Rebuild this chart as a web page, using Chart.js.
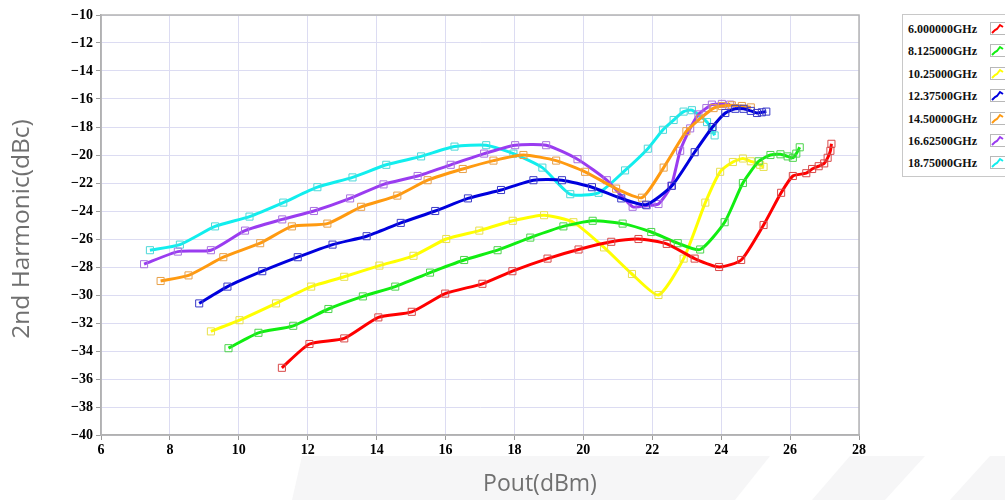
<!DOCTYPE html>
<html>
<head>
<meta charset="utf-8">
<script src="https://cdn.jsdelivr.net/npm/chart.js@4.4.1/dist/chart.umd.min.js"></script>
<style>
  html, body { margin: 0; padding: 0; background: #fff; }
  #wrap { position: relative; width: 1005px; height: 500px; overflow: hidden; }
  #legend {
    position: absolute; left: 902px; top: 14px; width: 120px; height: 163px;
    border: 1px solid #c8c8c8; background: #fff; box-sizing: border-box;
    font: bold 12px "Liberation Serif", serif; color: #111;
  }
  .row { position: absolute; left: 5px; height: 14px; line-height: 14px; white-space: nowrap; }
  .sw { position: absolute; left: 82px; top: 0; width: 16px; height: 13px; border: 1px solid #b8b8b8; box-sizing: border-box; background: #fff; }
</style>
</head>
<body>
<div id="wrap">
  <canvas id="myChart" width="1005" height="500"></canvas>
  <div id="legend"></div>
</div>
<script>
// series labels
const freqLabels = ['6.000000GHz', '8.125000GHz', '10.25000GHz', '12.37500GHz', '14.50000GHz', '16.62500GHz', '18.75000GHz'];
const lineColors = ['#ff0000', '#11ee11', '#ffff00', '#0000dd', '#ff9a10', '#9a3cf0', '#11eeee'];
const markColors = ['#d84848', '#4cd44c', '#e8e04c', '#3a3ac8', '#e8a048', '#a870e0', '#4cd8d8'];

// Pout (dBm) / 2nd harmonic (dBc)
const pout6 = [11.25, 12.05, 13.06, 14.05, 15.02, 15.99, 17.07, 17.94, 18.96, 19.86, 20.81, 21.60, 22.42, 23.23, 23.94, 24.58, 25.23, 25.74, 26.08, 26.47, 26.64, 26.83, 26.99, 27.09, 27.17, 27.20];
const harm6 = [-35.2, -33.5, -33.1, -31.6, -31.2, -29.9, -29.2, -28.3, -27.4, -26.75, -26.2, -26.0, -26.35, -27.4, -28.0, -27.5, -25.0, -22.7, -21.5, -21.3, -21.0, -20.8, -20.6, -20.2, -19.7, -19.2];

const pout8 = [9.70, 10.57, 11.58, 12.60, 13.60, 14.54, 15.55, 16.54, 17.51, 18.46, 19.42, 20.27, 21.14, 21.97, 22.74, 23.39, 24.10, 24.63, 25.09, 25.43, 25.72, 25.93, 26.08, 26.18, 26.28];
const harm8 = [-33.8, -32.7, -32.2, -31.0, -30.1, -29.4, -28.4, -27.5, -26.8, -25.9, -25.1, -24.7, -24.9, -25.5, -26.3, -26.75, -24.8, -22.0, -20.45, -20.0, -19.95, -20.1, -20.2, -19.9, -19.45];

const pout10 = [9.19, 10.02, 11.08, 12.10, 13.06, 14.08, 15.07, 16.02, 16.98, 17.95, 18.86, 19.71, 20.60, 21.41, 22.18, 22.91, 23.54, 23.97, 24.34, 24.63, 24.86, 25.13, 25.23];
const harm10 = [-32.6, -31.8, -30.6, -29.4, -28.7, -27.9, -27.2, -26.0, -25.4, -24.7, -24.3, -24.8, -26.6, -28.5, -30.0, -27.4, -23.4, -21.2, -20.5, -20.25, -20.45, -20.7, -20.85];

const pout12 = [8.85, 9.67, 10.68, 11.71, 12.72, 13.71, 14.70, 15.70, 16.65, 17.61, 18.55, 19.38, 20.25, 21.10, 21.82, 22.57, 23.23, 23.75, 24.12, 24.41, 24.65, 24.86, 25.04, 25.18, 25.31];
const harm12 = [-30.6, -29.4, -28.3, -27.3, -26.4, -25.8, -24.85, -24.0, -23.1, -22.5, -21.8, -21.8, -22.3, -23.1, -23.55, -22.2, -19.8, -18.0, -17.0, -16.7, -16.7, -16.85, -17.0, -16.95, -16.9];

const pout14 = [7.73, 8.54, 9.55, 10.62, 11.54, 12.57, 13.55, 14.60, 15.48, 16.50, 17.39, 18.26, 19.21, 20.05, 20.95, 21.70, 22.33, 22.99, 23.39, 23.78, 24.02, 24.31, 24.60, 24.86];
const harm14 = [-29.0, -28.6, -27.3, -26.3, -25.1, -24.9, -23.7, -22.9, -21.8, -21.0, -20.4, -20.0, -20.4, -21.2, -22.4, -23.05, -20.9, -18.3, -17.4, -16.65, -16.5, -16.45, -16.5, -16.6];

const pout16 = [7.25, 8.23, 9.19, 10.18, 11.26, 12.18, 13.23, 14.20, 15.19, 16.15, 17.12, 18.02, 18.92, 19.83, 20.68, 21.43, 21.84, 22.18, 22.55, 22.81, 23.10, 23.34, 23.57, 23.73, 24.02, 24.26];
const harm16 = [-27.8, -26.9, -26.8, -25.4, -24.6, -24.0, -23.1, -22.1, -21.5, -20.7, -19.9, -19.3, -19.3, -20.3, -21.8, -23.7, -23.6, -23.5, -22.2, -19.7, -18.1, -17.1, -16.65, -16.4, -16.35, -16.4];

const pout18 = [7.42, 8.29, 9.31, 10.31, 11.29, 12.28, 13.30, 14.28, 15.29, 16.26, 17.18, 17.97, 18.81, 19.62, 20.44, 21.21, 21.87, 22.31, 22.62, 22.91, 23.15, 23.59, 23.73, 23.81];
const harm18 = [-26.8, -26.4, -25.1, -24.4, -23.4, -22.3, -21.6, -20.7, -20.1, -19.4, -19.3, -19.9, -20.9, -22.8, -22.7, -21.1, -19.55, -18.2, -17.5, -16.9, -16.8, -17.65, -18.2, -18.6];

const poutSets = [pout6, pout8, pout10, pout12, pout14, pout16, pout18];
const harmSets = [harm6, harm8, harm10, harm12, harm14, harm16, harm18];

const datasets = freqLabels.map((label, i) => ({
    label: label,
    data: poutSets[i].map((x, j) => ({ x: x, y: harmSets[i][j] })),
    borderColor: lineColors[i],
    borderWidth: 3,
    pointStyle: 'rect',
    pointRadius: 5,
    pointBorderWidth: 1,
    pointBorderColor: markColors[i],
    pointBackgroundColor: 'rgba(0,0,0,0)',
    tension: 0.2,
    fill: false
}));

// faint background shapes, frame round the plot, axis titles
const decor = {
    id: 'decor',
    beforeDraw(chart) {
        const c = chart.ctx;
        c.save();
        c.fillStyle = '#fff';
        c.fillRect(0, 0, chart.width, chart.height);
        c.fillStyle = '#f6f6f7';
        c.beginPath();
        c.moveTo(292, 500); c.lineTo(302, 456); c.lineTo(770, 456); c.lineTo(735, 500);
        c.closePath(); c.fill();
        c.beginPath();
        c.moveTo(812, 500); c.lineTo(850, 456); c.lineTo(925, 456); c.lineTo(885, 500);
        c.closePath(); c.fill();
        c.beginPath();
        c.moveTo(950, 500); c.lineTo(990, 456); c.lineTo(1005, 456); c.lineTo(1005, 500);
        c.closePath(); c.fill();
        c.restore();
    },
    afterDraw(chart) {
        const a = chart.chartArea, c = chart.ctx;
        c.save();
        c.strokeStyle = '#b4b4b4';
        c.lineWidth = 1.5;
        c.strokeRect(a.left, a.top, a.right - a.left, a.bottom - a.top);
        c.fillStyle = '#707070';
        c.textAlign = 'center';
        c.textBaseline = 'middle';
        c.font = '23px "Open Sans", sans-serif';
        c.fillText('Pout(dBm)', 540, 484);
        c.translate(22, 229);
        c.rotate(-Math.PI / 2);
        c.font = '24.5px "Open Sans", sans-serif';
        c.fillText('2nd Harmonic(dBc)', 0, 0);
        c.restore();
    }
};

const tickFont = { family: '"Liberation Serif", serif', size: 14, weight: 'bold' };

const config = {
    type: 'line',
    data: { datasets: datasets },
    options: {
        responsive: false,
        animation: false,
        layout: { padding: { left: 0, right: 146, top: 15, bottom: 0 } },
        plugins: { legend: { display: false }, tooltip: { enabled: false } },
        scales: {
            x: {
                type: 'linear',
                min: 6, max: 28,
                ticks: { stepSize: 2, color: '#000', font: tickFont, padding: 2, maxRotation: 0 },
                grid: { color: '#dcdcf2', tickColor: '#999', tickLength: 5 },
                border: { color: '#a8a8a8', width: 1.5 },
                afterFit(scale) { scale.height = 65; }
            },
            y: {
                min: -40, max: -10,
                ticks: {
                    stepSize: 2, color: '#000', font: tickFont, padding: 3,
                    callback: v => String(v).replace('-', '\u2212')
                },
                grid: { color: '#dcdcf2', tickColor: '#999', tickLength: 5 },
                border: { color: '#a8a8a8', width: 1.5 },
                afterFit(scale) { scale.width = 101; }
            }
        }
    },
    plugins: [decor]
};

const myChart = new Chart(document.getElementById('myChart'), config);

// legend box on the right
const legend = document.getElementById('legend');
freqLabels.forEach((label, i) => {
    const row = document.createElement('div');
    row.className = 'row';
    row.style.top = (7 + i * 22.4) + 'px';
    row.innerHTML = label + '<span class="sw"><svg width="14" height="11" viewBox="0 0 14 11">' +
        '<polyline points="1,10 4,7 6,6 9,2 12,4" fill="none" stroke="' + lineColors[i] + '" stroke-width="2"/></svg></span>';
    legend.appendChild(row);
});
</script>
</body>
</html>
